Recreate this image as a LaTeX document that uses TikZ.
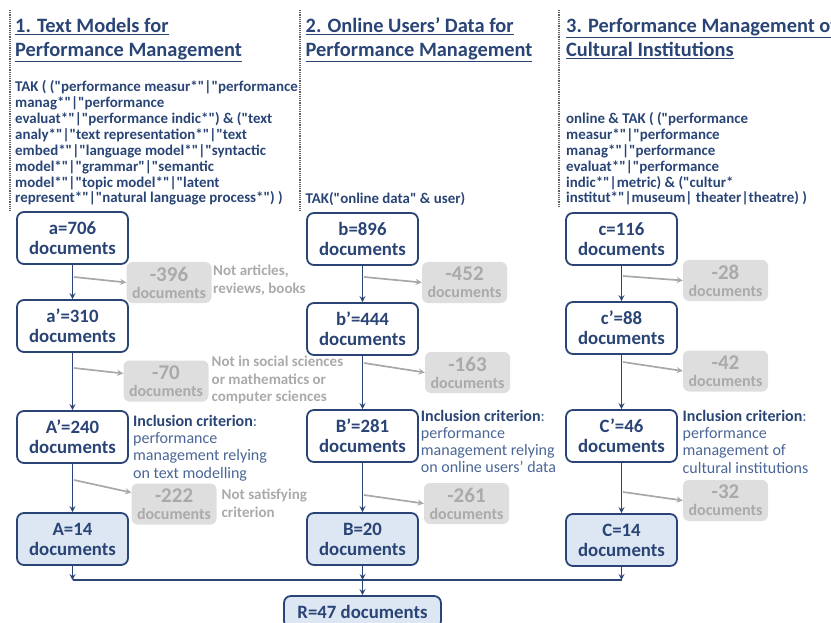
\documentclass[tikz,border=0pt]{standalone}
\usepackage{fontspec}
\setmainfont{Carlito}[Ligatures=TeXOff]
\usepackage{xcolor}
\usetikzlibrary{arrows, positioning}

\definecolor{navy}{RGB}{41,68,117}
\definecolor{softnavy}{RGB}{74,102,150}
\definecolor{paleblue}{RGB}{221,231,243}
\definecolor{dropfill}{RGB}{222,222,222}
\definecolor{droptext}{RGB}{170,170,170}
\definecolor{dropline}{RGB}{168,168,168}
\definecolor{dotgray}{RGB}{95,95,95}

\newcommand{\headline}[1]{\setbox0\hbox{#1}\rlap{\rule[\dimexpr-\dp0-2pt\relax]{\wd0}{1.3pt}}\box0}
\newcommand{\kept}[1]{#1\\documents}
\newcommand{\removed}[1]{{\fontsize{21}{17}\selectfont -#1}\\documents}
\newcommand{\incl}{{\bfseries\color{navy}Inclusion criterion}:}

\tikzset{
  countbox/.style={draw=navy, line width=1.8pt, rounded corners=7pt, fill=white,
    minimum width=111pt, minimum height=52pt, inner sep=0pt, align=center,
    text=navy, font=\bfseries\fontsize{18.8}{20}\selectfont},
  finalbox/.style={countbox, fill=paleblue},
  dropbox/.style={fill=dropfill, rounded corners=6pt, minimum width=85pt,
    minimum height=41pt, inner sep=0pt, align=center, text=droptext,
    font=\bfseries\fontsize{16}{17}\selectfont},
  flow/.style={->, >=stealth, draw=navy, line width=1.6pt},
  skip/.style={->, >=stealth, draw=dropline, line width=1.7pt},
  heading/.style={anchor=base west, align=left, inner sep=0pt, text=navy,
    font=\bfseries\fontsize{20.4}{24}\selectfont},
  query/.style={anchor=base west, align=left, inner sep=0pt, text=navy,
    font=\bfseries\fontsize{14.9}{15.9}\selectfont},
  reason/.style={anchor=base west, align=left, inner sep=0pt, text=droptext,
    font=\bfseries\fontsize{15}{17.5}\selectfont},
  criterion/.style={anchor=base west, align=left, inner sep=0pt, text=softnavy,
    font=\fontsize{16}{17.2}\selectfont},
  divider/.style={draw=dotgray, line width=1.6pt, dash pattern=on 1.2pt off 1pt}
}

\begin{document}
\begin{tikzpicture}[x=1pt, y=-1pt]
\useasboundingbox (0,0) rectangle (831,623);

% column separators
\draw[divider] (10,10) -- (10,211);
\draw[divider] (300,10) -- (300,212);
\draw[divider] (559,10) -- (559,207);

% headings (placed at the baseline of their last line)
\node[heading] (h1) at (15,57) {\headline{1. Text Models for}\\\headline{Performance Management}};
\node[heading] (h2) at (305.5,57) {\headline{2. Online Users’ Data for}\\\headline{Performance Management}};
\node[heading] (h3) at (566,57) {\headline{3. Performance Management of}\\\headline{Cultural Institutions}};

% search queries
\node[query] (q1) at (15,203) {TAK ( ("performance measur*"|"performance\\
manag*"|"performance\\
evaluat*"|"performance indic*") \& ("text\\
analy*"|"text representation*"|"text\\
embed*"|"language model*"|"syntactic\\
model*"|"grammar"|"semantic\\
model*"|"topic model*"|"latent\\
represent*"|"natural language process*") )};
\node[query] (q2) at (305.5,203.5) {TAK("online data" \& user)};
\node[query] (q3) at (566,203) {online \& TAK ( ("performance\\
measur*"|"performance\\
manag*"|"performance\\
evaluat*"|"performance\\
indic*"|metric) \& ("cultur*\\
institut*"|museum| theater|theatre) )};

% column 1
\node[countbox] (a0) at (72.5,238) {\kept{a=706}};
\node[countbox] (a1) at (72.5,326) {\kept{a’=310}};
\node[countbox] (a2) at (72.5,437) {\kept{A’=240}};
\node[finalbox] (a3) at (72.5,539) {\kept{A=14}};
\node[dropbox] (da1) at (169,282.5) {\removed{396}};
\node[dropbox] (da2) at (166,381) {\removed{70}};
\node[dropbox] (da3) at (174,504) {\removed{222}};
\node[reason] (ra1) at (213,293.5) {Not articles,\\reviews, books};
\node[reason] (ra2) at (211.5,401.5) {Not in social sciences\\or mathematics or\\computer sciences};
\node[reason] (ra3) at (221.5,517) {Not satisfying\\criterion};
\node[criterion] (ia) at (133,478.1) {\incl\\performance\\management relying\\on text modelling};

% column 2
\node[countbox] (b0) at (362.5,239) {\kept{b=896}};
\node[countbox] (b1) at (362.5,329) {\kept{b’=444}};
\node[countbox] (b2) at (362.5,436) {\kept{B’=281}};
\node[finalbox] (b3) at (362.5,539) {\kept{B=20}};
\node[dropbox] (db1) at (464.5,282.5) {\removed{452}};
\node[dropbox] (db2) at (467.5,372.5) {\removed{163}};
\node[dropbox] (db3) at (466.5,503.5) {\removed{261}};
\node[criterion] (ib) at (420.7,472.6) {\incl\\performance\\management relying\\on online users’ data};

% column 3
\node[countbox] (c0) at (621.5,239) {\kept{c=116}};
\node[countbox] (c1) at (621.5,328) {\kept{c’=88}};
\node[countbox] (c2) at (621.5,436) {\kept{C’=46}};
\node[finalbox] (c3) at (621.5,540) {\kept{C=14}};
\node[dropbox] (dc1) at (725.5,280.5) {\removed{28}};
\node[dropbox] (dc2) at (725.5,371) {\removed{42}};
\node[dropbox] (dc3) at (725.5,500.5) {\removed{32}};
\node[criterion] (ic) at (682.5,473.1) {\incl\\performance\\management of\\cultural institutions};

% result
\node[finalbox, minimum width=157pt, minimum height=32pt] (r) at (362.5,612) {R=47 documents};

% main flow
\draw[flow] (a0) -- (a1);
\draw[flow] (a1) -- (a2);
\draw[flow] (a2) -- (a3);
\draw[flow] (b0) -- (b1);
\draw[flow] (b1) -- (b2);
\draw[flow] (b2) -- (b3);
\draw[flow] (c0) -- (c1);
\draw[flow] (c1) -- (c2);
\draw[flow] (c2) -- (c3);

% excluded documents
\coordinate (sa1) at (74,277);
\coordinate (sa2) at (74,368);
\coordinate (sa3) at (74,480);
\coordinate (sb1) at (364,277);
\coordinate (sb2) at (364,363);
\coordinate (sb3) at (364,495);
\coordinate (sc1) at (623,276);
\coordinate (sc2) at (623,362);
\coordinate (sc3) at (623,492);
\draw[skip] (sa1) -- (da1.west);
\draw[skip] (sa2) -- (da2.170);
\draw[skip] (sa3) -- (da3.165);
\draw[skip] (sb1) -- (db1.west);
\draw[skip] (sb2) -- (db2.west);
\draw[skip] (sb3) -- (db3.west);
\draw[skip] (sc1) -- (dc1.west);
\draw[skip] (sc2) -- (dc2.west);
\draw[skip] (sc3) -- (dc3.west);

% merging
\coordinate (ma) at (72.5,580);
\coordinate (mb) at (362.5,580);
\coordinate (mc) at (621.5,580);
\draw[flow] (a3) -- (ma);
\draw[flow] (b3) -- (mb);
\draw[flow] (c3) -- (mc);
\draw[navy, line width=1.6pt] (ma) -- (mc);
\draw[flow] (mb) -- (r);
\end{tikzpicture}
\end{document}
